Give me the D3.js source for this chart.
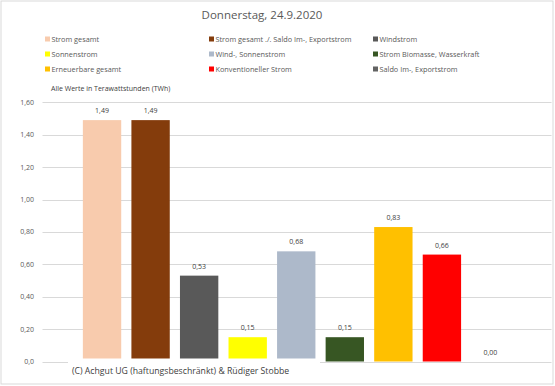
<!DOCTYPE html>
<html>
<head>
    <script src="https://d3js.org/d3.v7.min.js"></script>
    <style>
        body { margin: 0; background: #fff; }
        text { font-family: "Open Sans", sans-serif; }
    </style>
</head>
<body>
<svg width="555" height="386"></svg>
<script>
// chart data
var categories = ["Strom gesamt", "Strom gesamt ./. Saldo Im-, Exportstrom", "Windstrom",
    "Sonnenstrom", "Wind-, Sonnenstrom", "Strom Biomasse, Wasserkraft",
    "Erneuerbare gesamt", "Konventioneller Strom", "Saldo Im-, Exportstrom"];
var values = [1.49, 1.49, 0.53, 0.15, 0.68, 0.15, 0.83, 0.66, 0.00];
var colors = ["#F8CBAD", "#843C0C", "#595959", "#FFFF00", "#ADB9CA", "#375623", "#FFC000", "#FF0000", "#636363"];
var yTicks = [0, 0.2, 0.4, 0.6, 0.8, 1.0, 1.2, 1.4, 1.6];

var svg = d3.select("svg");

// outer border
svg.append("rect").attr("x", 1).attr("y", 1).attr("width", 552).attr("height", 383)
    .attr("fill", "#fff").attr("stroke", "#D9D9D9");

// title
svg.append("text").attr("x", 262).attr("y", 19).attr("text-anchor", "middle")
    .attr("font-size", 11.5).attr("fill", "#595959").text("Donnerstag, 24.9.2020");

// legend, 3 columns
var legX = [45, 209, 373];
categories.forEach(function(c, i){
    var lx = legX[i % 3], ly = 39 + Math.floor(i / 3) * 15;
    svg.append("rect").attr("x", lx).attr("y", ly - 2.5).attr("width", 5).attr("height", 5).attr("fill", colors[i]);
    svg.append("text").attr("x", lx + 6.5).attr("y", ly + 2.5).attr("font-size", 7.3)
        .attr("fill", "#595959").text(c);
});

svg.append("text").attr("x", 51).attr("y", 91).attr("font-size", 7)
    .attr("fill", "#404040").text("Alle Werte in Terawattstunden (TWh)");

var x = d3.scaleBand().domain(categories).range([78, 514.5]).paddingInner(0.21).paddingOuter(0.1);
var y = d3.scaleLinear().domain([0, 1.6]).range([361.5, 102.3]);

// gridlines
svg.append("g").selectAll("line").data(yTicks).join("line")
    .attr("x1", 42.5).attr("x2", 551.5)
    .attr("y1", function(d){ return Math.round(y(d)) + 0.5; })
    .attr("y2", function(d){ return Math.round(y(d)) + 0.5; })
    .attr("stroke", "#D9D9D9");

// y labels
var fmt = function(d){ return d === 0 ? "0,0" : d3.format(".2f")(d).replace(".", ","); };
svg.append("g").selectAll("text").data(yTicks).join("text")
    .attr("x", 34).attr("y", function(d){ return y(d) + 2.5; })
    .attr("text-anchor", "end").attr("font-size", 7).attr("fill", "#595959")
    .text(fmt);

// bars
svg.append("g").selectAll("rect").data(values).join("rect")
    .attr("x", function(d, i){ return x(categories[i]); })
    .attr("width", x.bandwidth())
    .attr("y", function(d){ return y(d); })
    .attr("height", function(d){ return y(0) - y(d); })
    .attr("fill", function(d, i){ return colors[i]; });

// value labels
svg.append("g").selectAll("text").data(values).join("text")
    .attr("x", function(d, i){ return x(categories[i]) + x.bandwidth() / 2; })
    .attr("y", function(d){ return y(d) - 7; })
    .attr("text-anchor", "middle").attr("font-size", 7).attr("fill", "#404040")
    .text(function(d){ return d3.format(".2f")(d).replace(".", ","); });

// copyright box over the bar bottoms
svg.append("rect").attr("x", 68).attr("y", 358.5).attr("width", 252).attr("height", 20).attr("fill", "#fff");
svg.append("text").attr("x", 72).attr("y", 374).attr("font-size", 8.7)
    .attr("fill", "#404040").text("(C) Achgut UG (haftungsbeschränkt) & Rüdiger Stobbe");
</script>
</body>
</html>
